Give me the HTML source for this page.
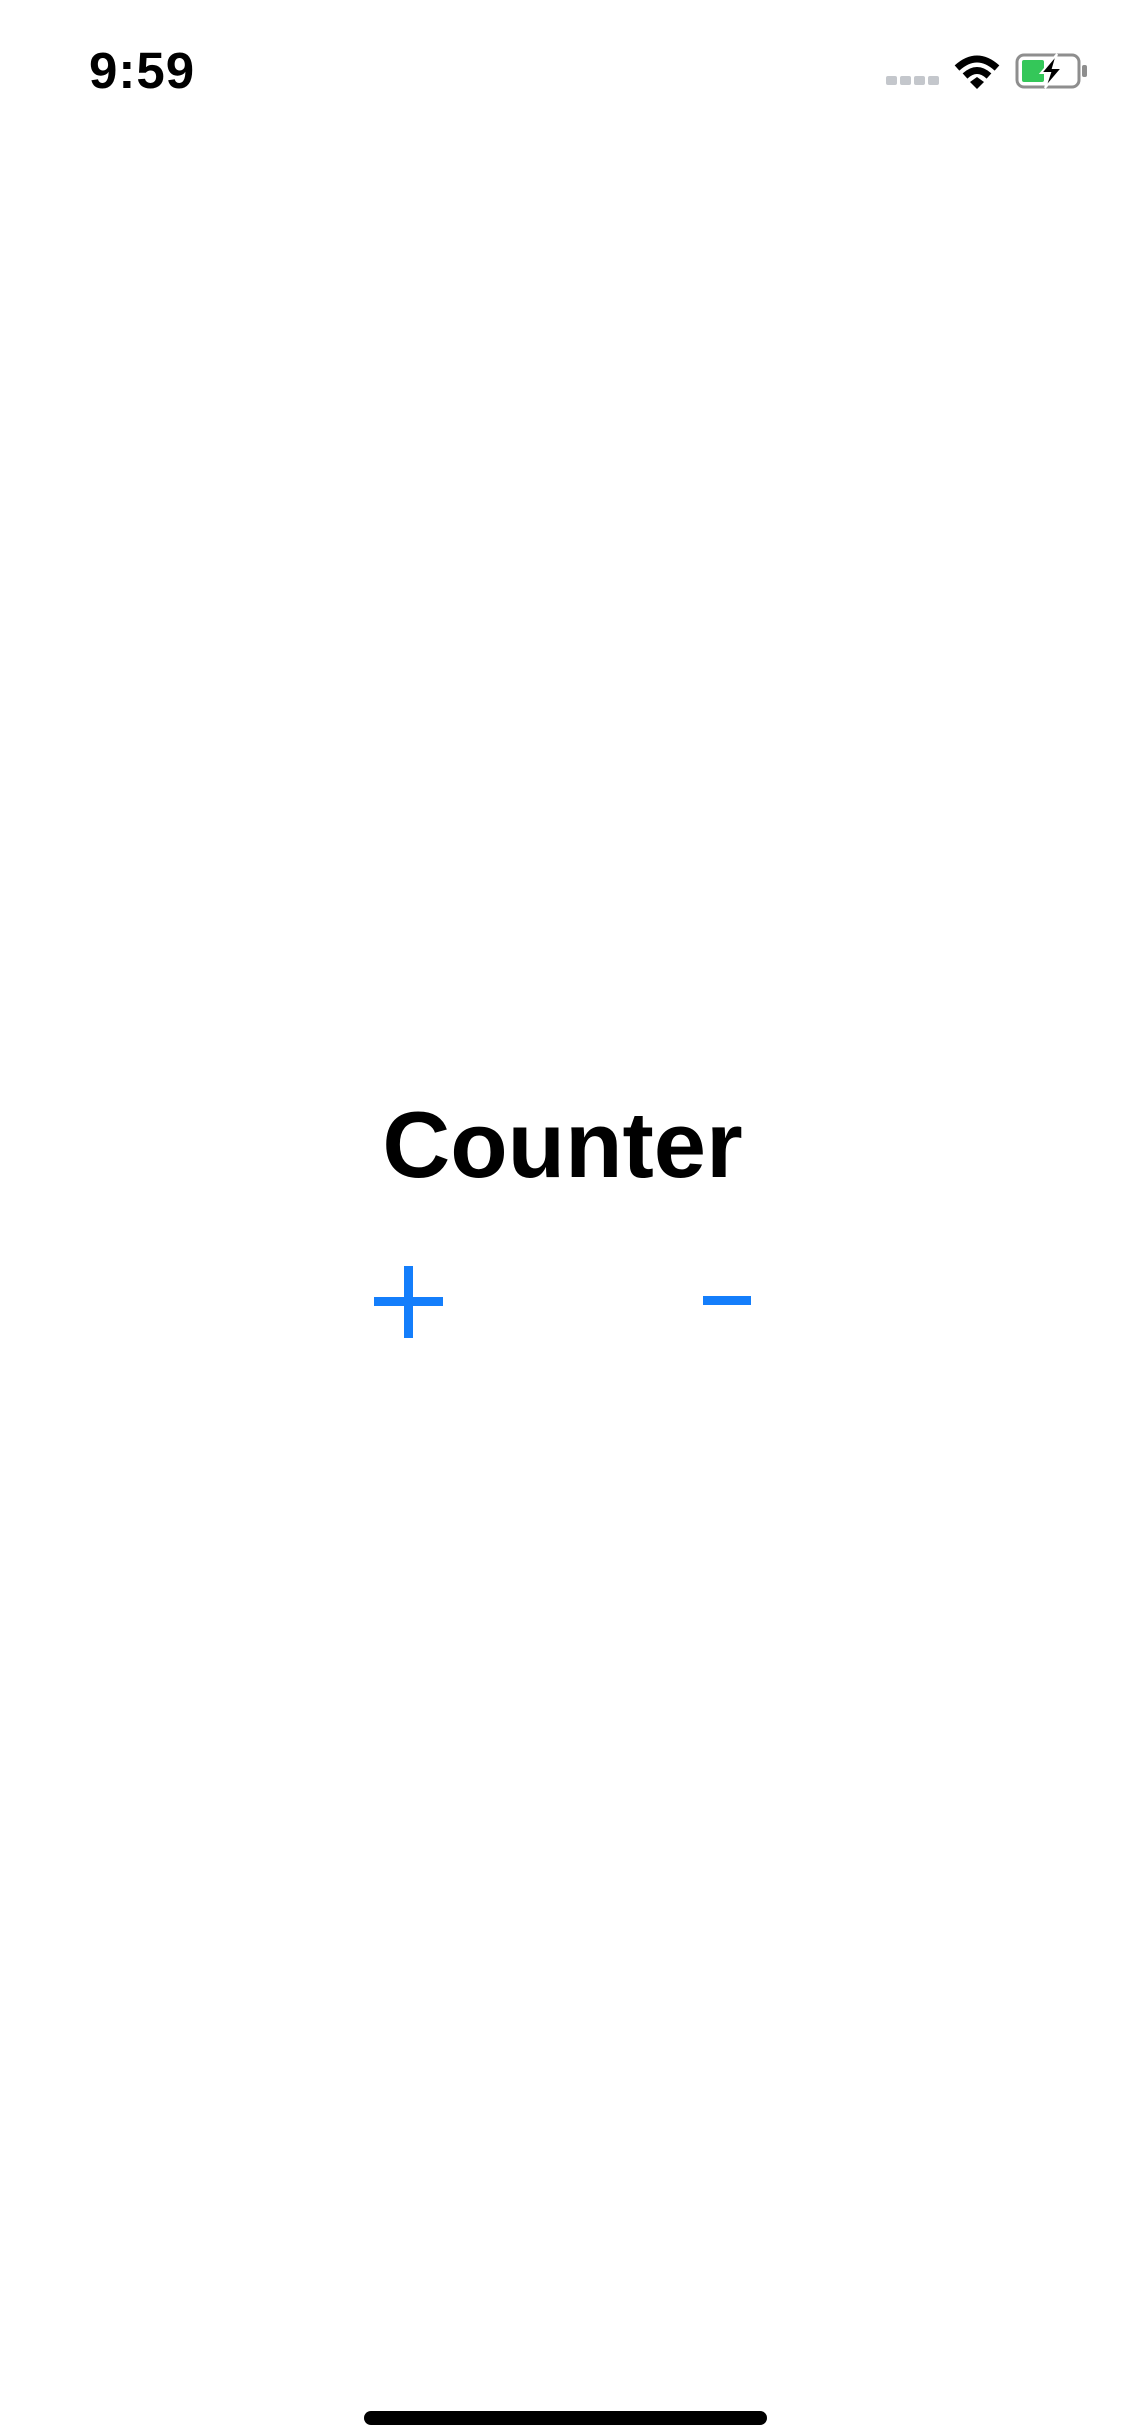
<!DOCTYPE html>
<html><head><style>
html,body{margin:0;padding:0;background:#fff;}
body{width:1125px;height:2436px;position:relative;overflow:hidden;font-family:"Liberation Sans",sans-serif;}
.a{position:absolute;}
</style></head><body>
<div class="a" style="left:89px;top:43px;font-size:51px;font-weight:bold;line-height:56px;color:#000;letter-spacing:1px">9:59</div>
<div class="a" style="left:886px;top:76px;width:11px;height:9px;background:#c4c7cc;border-radius:2px"></div>
<div class="a" style="left:900px;top:76px;width:11px;height:9px;background:#c4c7cc;border-radius:2px"></div>
<div class="a" style="left:914px;top:76px;width:11px;height:9px;background:#c4c7cc;border-radius:2px"></div>
<div class="a" style="left:928px;top:76px;width:11px;height:9px;background:#c4c7cc;border-radius:2px"></div>
<svg class="a" style="left:954px;top:53px" width="46" height="36" viewBox="0 0 46 36">
<path d="M3 15 Q23 -3 43 15" stroke="#000" stroke-width="7" fill="none"/>
<path d="M11 23 Q23 12 35 23" stroke="#000" stroke-width="7" fill="none"/>
<path d="M16 29 L23 24 L30 29 L23 36 Z" fill="#000"/>
</svg>
<svg class="a" style="left:1015px;top:53px" width="74" height="36" viewBox="0 0 74 36">
<rect x="2" y="2" width="62" height="32" rx="7" fill="none" stroke="#8e8e8e" stroke-width="3"/>
<rect x="67" y="12" width="5" height="12" rx="2" fill="#8e8e8e"/>
<rect x="7" y="7" width="22" height="22" rx="2" fill="#34c759"/>
<path d="M42 1 L26 20 L35 20 L30 35 L47 15 L38 15 Z" fill="#000" stroke="#fff" stroke-width="2"/>
</svg>
<div class="a" style="left:0;width:1125px;top:1095px;text-align:center;font-size:94px;font-weight:bold;line-height:100px;color:#000;">Counter</div>
<div class="a" style="left:374px;top:1297px;width:69px;height:9px;background:#147efb"></div>
<div class="a" style="left:404px;top:1266px;width:9px;height:72px;background:#147efb"></div>
<div class="a" style="left:703px;top:1296px;width:48px;height:9px;background:#147efb"></div>
<div class="a" style="left:364px;top:2411px;width:403px;height:14px;background:#000;border-radius:7px"></div>
</body></html>
